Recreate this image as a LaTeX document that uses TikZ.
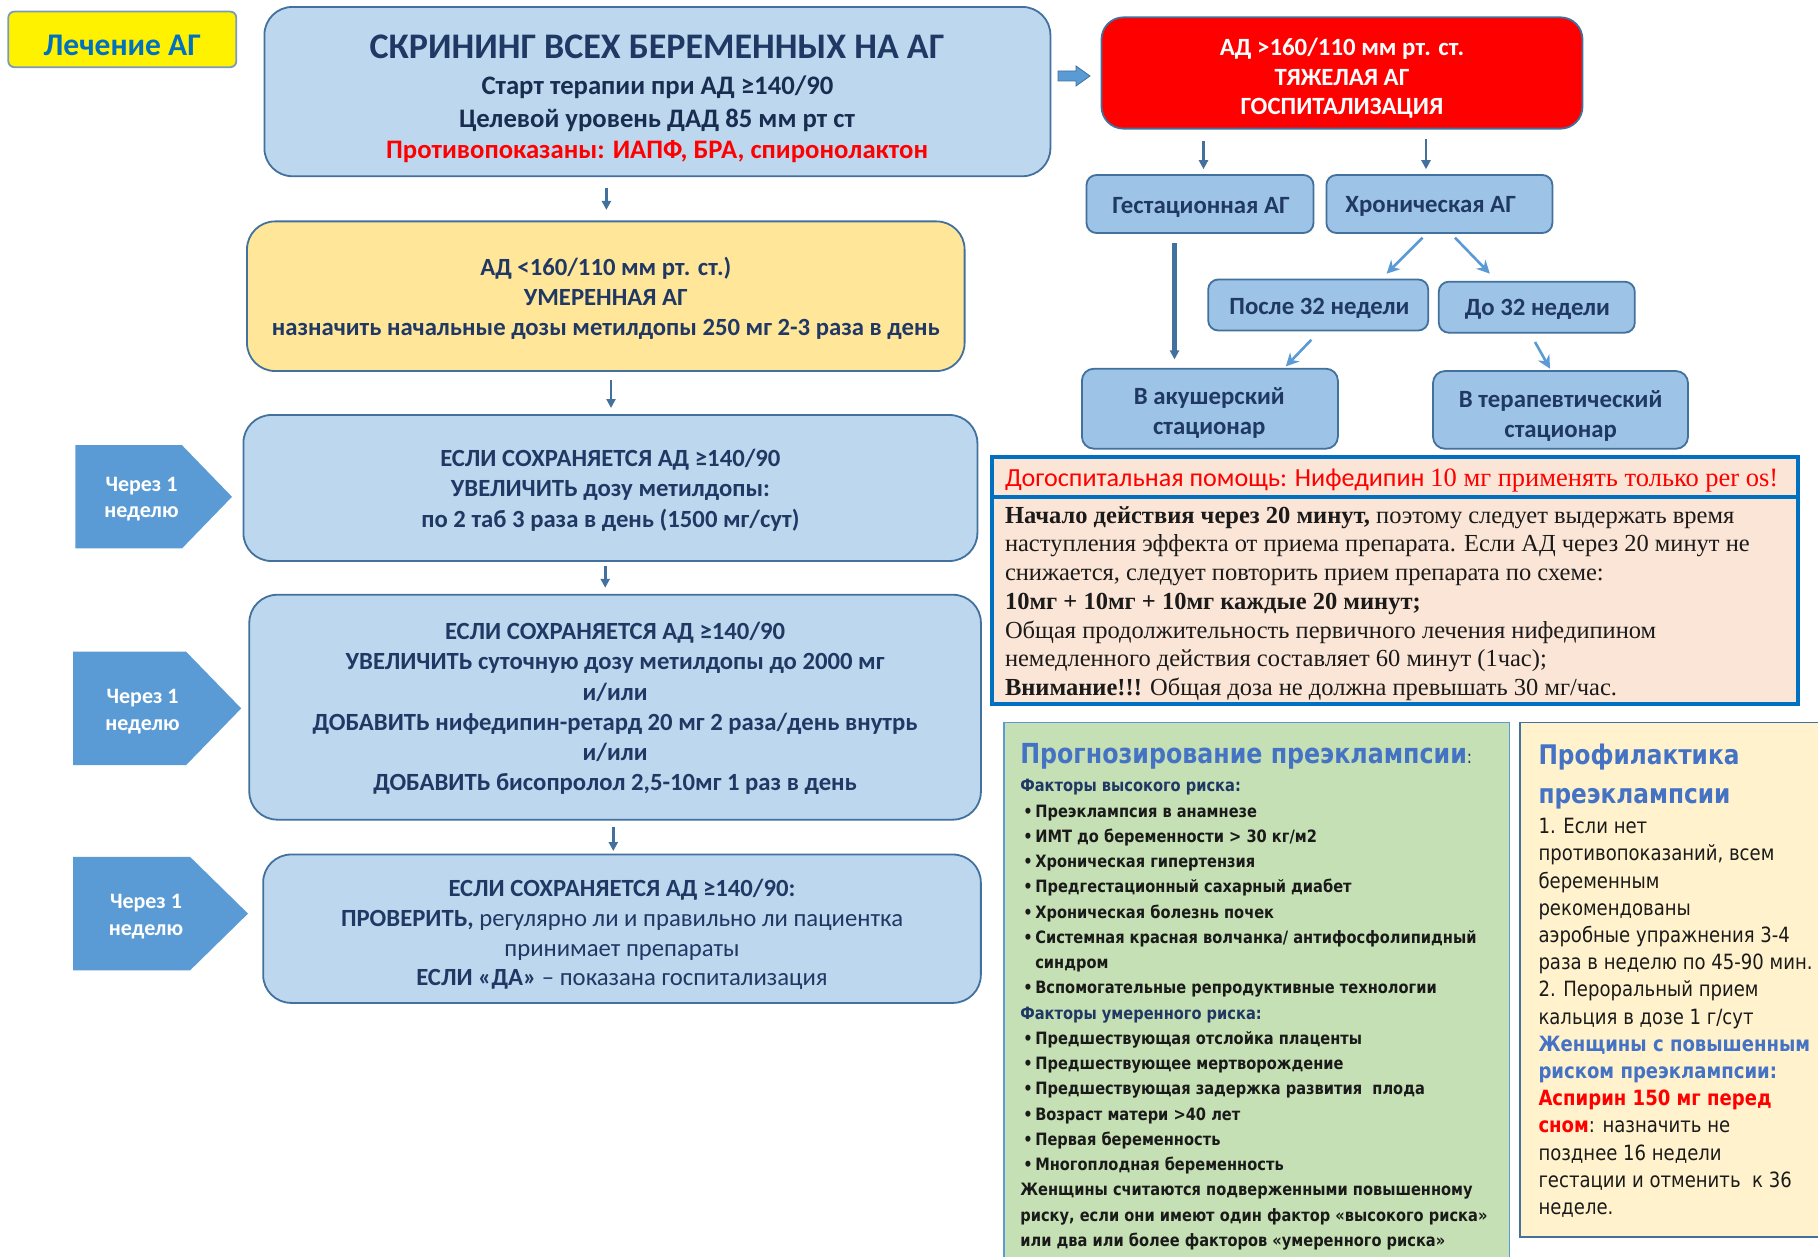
\documentclass[tikz,border=0pt]{standalone}
\usepackage{fontspec}
\setmainfont{Carlito}
\newfontfamily\serif{Liberation Serif}
\newfontfamily\tah[FakeStretch=0.86]{DejaVu Sans}
\usetikzlibrary{arrows.meta}
\definecolor{bfill}{HTML}{BDD7EE}
\definecolor{bdr}{HTML}{41719C}
\definecolor{mfill}{HTML}{9DC3E6}
\definecolor{pent}{HTML}{5B9BD5}
\definecolor{dtext}{HTML}{203864}
\definecolor{yfill}{HTML}{FFE699}
\definecolor{peach}{HTML}{FBE5D6}
\definecolor{gfill}{HTML}{C5E0B4}
\definecolor{lyfill}{HTML}{FFF2CC}
\definecolor{ttl}{HTML}{4472C4}
\definecolor{nblue}{HTML}{0070C0}
\definecolor{rtxt}{HTML}{FF0000}
\definecolor{btxt}{HTML}{1A1A1A}
\newcommand{\gbul}{\makebox[15pt][l]{\hspace{3pt}\textbullet}}
\newcommand{\gind}{\hspace{15pt}}
\begin{document}
\begin{tikzpicture}[x=1pt,y=-1pt,
  every node/.style={inner sep=0pt, outer sep=0pt},
  box/.style={draw=bdr, line width=1.8pt},
  flow/.style={box, fill=bfill, rounded corners=28pt},
  ftxt/.style={align=center, text=dtext, font=\bfseries\fontsize{24.7}{30.1}\selectfont},
  small/.style={box, fill=mfill, rounded corners=10pt},
  stxt/.style={align=center, text=dtext, font=\bfseries\fontsize{24.8}{30.1}\selectfont},
  arr/.style={draw=bdr, line width=2.6pt, -{Triangle[length=9pt,width=9pt]}},
  darr/.style={draw=pent, line width=2.6pt, -{Stealth[length=13pt,width=13pt]}},
  ptxt/.style={align=center, text=white, font=\bfseries\fontsize{22}{26.7}\selectfont},
  nline/.style={anchor=mid west, text=btxt, font=\serif\fontsize{24.5}{28}\selectfont},
  gline/.style={anchor=mid west, text=btxt, font=\tah\bfseries\fontsize{17}{20}\selectfont},
  rline/.style={anchor=mid west, text=btxt, font=\tah\fontsize{21}{24}\selectfont}
]
\useasboundingbox (0,0) rectangle (1818,1257);
\fill[white] (0,0) rectangle (1818,1257);

% title
\node[box, draw=bdr!70, fill=yellow, rounded corners=6pt, minimum width=228pt, minimum height=55.6pt] (lech) at (122.3,39.4) {};
\node[text=nblue, font=\bfseries\fontsize{31.5}{33}\selectfont] (lechT) at (122.3,45) {Лечение АГ};

% screening
\node[flow, minimum width=786pt, minimum height=169.3pt] (scr) at (657.4,91.6) {};
\node[text=dtext, font=\bfseries\fontsize{36}{38}\selectfont] (scr1) at (657,46.4) {СКРИНИНГ ВСЕХ БЕРЕМЕННЫХ НА АГ};
\node[text=dtext!80!black, font=\bfseries\fontsize{26.7}{28}\selectfont] (scr2) at (657.4,86.9) {Старт терапии при АД ≥140/90};
\node[text=dtext!80!black, font=\bfseries\fontsize{26.7}{28}\selectfont] (scr3) at (657,120.6) {Целевой уровень ДАД 85 мм рт ст};
\node[text=rtxt, font=\bfseries\fontsize{26.7}{28}\selectfont] (scr4) at (657,151.9) {Противопоказаны: ИАПФ, БРА, спиронолактон};

% block arrow
\filldraw[fill=pent, draw=bdr, line width=0.8pt] (1058,71) -- (1076,71) -- (1076,66) -- (1090,76) -- (1076,86) -- (1076,81) -- (1058,81) -- cycle;

% red box
\node[box, fill=red, rounded corners=22pt, minimum width=481pt, minimum height=111.3pt] (red) at (1342,73) {};
\node[align=center, text=white, font=\bfseries\fontsize{24.8}{29.6}\selectfont] (redT) at (1342,78.3)
  {АД >160/110 мм рт. ст.\\ТЯЖЕЛАЯ АГ\\ГОСПИТАЛИЗАЦИЯ};

% right small boxes
\node[small, minimum width=227pt, minimum height=58pt] (gest) at (1200,204) {};
\node[stxt] (gestT) at (1201.1,207.5) {Гестационная АГ};
\node[small, minimum width=226pt, minimum height=58pt] (chron) at (1439.4,204) {};
\node[stxt] (chronT) at (1430.7,206.3) {Хроническая АГ};
\node[small, minimum width=220pt, minimum height=51pt] (posle) at (1318.2,305) {};
\node[stxt] (posleT) at (1319.4,308.5) {После 32 недели};
\node[small, minimum width=196pt, minimum height=51pt] (do) at (1536.8,307.2) {};
\node[stxt] (doT) at (1537.4,309.5) {До 32 недели};
\node[small, rounded corners=12pt, minimum width=256pt, minimum height=80pt] (akush) at (1209.9,408.7) {};
\node[stxt] (akushT) at (1209.3,413.3) {В акушерский\\стационар};
\node[small, rounded corners=12pt, minimum width=255pt, minimum height=77.7pt] (ter) at (1560.5,409.9) {};
\node[stxt] (terT) at (1560.6,415.7) {В терапевтический\\стационар};

\draw[arr, shorten <=12.7pt, shorten >=5.8pt] (1203.5,0 |- red.south) -- (1203.5,0 |- gest.north);
\draw[arr, shorten <=10.3pt, shorten >=5.8pt] (1426,0 |- red.south) -- (1426,0 |- chron.north);
\draw[darr] ([shift={(-16.8,4.7)}]chron.south) -- ([shift={(68.4,-5.8)}]posle.north);
\draw[darr] ([shift={(15.6,4.7)}]chron.south) -- ([shift={(-47,-8.1)}]do.north);
\draw[arr, line width=4.5pt, shorten <=10.5pt, shorten >=9.3pt] (1174.5,0 |- gest.south) -- (1174.5,0 |- akush.north);
\draw[darr] ([shift={(-6.9,9.3)}]posle.south) -- ([shift={(75.9,-2.3)}]akush.north);
\draw[darr] ([shift={(-1.8,9.3)}]do.south) -- ([shift={(-10.5,-2.3)}]ter.north);

% left flow
\node[flow, fill=yfill, minimum width=717.6pt, minimum height=149.6pt] (mod) at (605.8,296.2) {};
\node[ftxt] (modT) at (605.8,298.5)
  {АД <160/110 мм рт. ст.)\\УМЕРЕННАЯ АГ\\назначить начальные дозы метилдопы 250 мг 2-3 раза в день};
\node[flow, minimum width=734pt, minimum height=146pt] (b3) at (610.4,488) {};
\node[ftxt] (b3T) at (610.4,490.3)
  {ЕСЛИ СОХРАНЯЕТСЯ АД ≥140/90\\УВЕЛИЧИТЬ дозу метилдопы:\\по 2 таб 3 раза в день (1500 мг/сут)};
\node[flow, minimum width=731.6pt, minimum height=224.9pt] (b4) at (615.1,707.2) {};
\node[ftxt] (b4T) at (615.1,708.4)
  {ЕСЛИ СОХРАНЯЕТСЯ АД ≥140/90\\УВЕЛИЧИТЬ суточную дозу метилдопы до 2000 мг\\и/или\\ДОБАВИТЬ нифедипин-ретард 20 мг 2 раза/день внутрь\\и/или\\ДОБАВИТЬ бисопролол 2,5-10мг 1 раз в день};
\node[flow, minimum width=717.7pt, minimum height=148.4pt] (b5) at (622,928.7) {};
\node[ftxt, font=\bfseries\fontsize{24.7}{29.8}\selectfont] (b5T) at (622,934.5)
  {ЕСЛИ СОХРАНЯЕТСЯ АД ≥140/90:\\ПРОВЕРИТЬ, \mdseries регулярно ли и правильно ли пациентка\\\mdseries принимает препараты\\ЕСЛИ «ДА» \mdseries – показана госпитализация};

\draw[arr, shorten <=11.6pt, shorten >=11.5pt] (606.4,0 |- scr.south) -- (606.4,0 |- mod.north);
\draw[arr, shorten <=9.3pt, shorten >=7pt] (611,0 |- mod.south) -- (611,0 |- b3.north);
\draw[arr, shorten <=4.7pt, shorten >=7pt] (605.2,0 |- b3.south) -- (605.2,0 |- b4.north);
\draw[arr, shorten <=6.9pt, shorten >=3.5pt] (613.3,0 |- b4.south) -- (613.3,0 |- b5.north);

% pentagons
\fill[pent] (75.4,445.2) -- (182,445.2) -- (232,496.8) -- (182,548.4) -- (75.4,548.4) -- cycle;
\node[ptxt] (p1) at (141.5,499.1) {Через 1\\неделю};
\fill[pent] (73,651.6) -- (186,651.6) -- (241.2,708.4) -- (186,765.2) -- (73,765.2) -- cycle;
\node[ptxt] (p2) at (142.6,711.8) {Через 1\\неделю};
\fill[pent] (73,856.8) -- (190,856.8) -- (248,913.6) -- (190,970.4) -- (73,970.4) -- cycle;
\node[ptxt] (p3) at (146,916.5) {Через 1\\неделю};

% nifedipine box
\node[draw=nblue, line width=4pt, fill=peach, minimum width=805.8pt, minimum height=246.9pt] (nif) at (1395.3,580.25) {};
\draw[nblue, line width=4pt] (nif.west |- 0,497.4) -- (nif.east |- 0,497.4);
\node[anchor=mid west, text=rtxt, font=\fontsize{26.1}{30}\selectfont] (nifh) at (1005,484.6)
  {Догоспитальная помощь: Нифедипин {\serif\fontsize{26.5}{28}\selectfont 10 мг применять только per os!}};
\node[nline] (n1) at (1005,521.2) {\bfseries Начало действия через 20 минут, \mdseries поэтому следует выдержать время};
\node[nline] (n2) at (1005,549) {наступления эффекта от приема препарата. Если АД через 20 минут не};
\node[nline] (n3) at (1005,578) {снижается, следует повторить прием препарата по схеме:};
\node[nline] (n4) at (1005,607) {\bfseries 10мг + 10мг + 10мг каждые 20 минут;};
\node[nline] (n5) at (1005,636) {Общая продолжительность первичного лечения нифедипином};
\node[nline] (n6) at (1005,663.8) {немедленного действия составляет 60 минут (1час);};
\node[nline] (n7) at (1005,692.8) {\bfseries Внимание!!! \mdseries Общая доза не должна превышать 30 мг/час.};

% green box
\draw[fill=gfill, draw=pent, line width=1.5pt] (1004,722.3) rectangle (1509.5,1275);
\node[anchor=mid west, text=ttl, font=\tah\bfseries\fontsize{27.6}{30}\selectfont] (gt) at (1020.3,761.6)
  {Прогнозирование преэклампсии{\mdseries\color{dtext}\fontsize{18}{20}\selectfont:}};
\foreach \t [count=\i] in {
  {\color{dtext}Факторы высокого риска:},
  \gbul Преэклампсия в анамнезе,
  \gbul ИМТ до беременности > 30 кг/м2,
  \gbul Хроническая гипертензия,
  \gbul Предгестационный сахарный диабет,
  \gbul Хроническая болезнь почек,
  \gbul Системная красная волчанка/ антифосфолипидный,
  \gind синдром,
  \gbul Вспомогательные репродуктивные технологии,
  {\color{dtext}Факторы умеренного риска:},
  \gbul Предшествующая отслойка плаценты,
  \gbul Предшествующее мертворождение,
  \gbul Предшествующая задержка развития\ \ плода,
  \gbul Возраст матери >40 лет,
  \gbul Первая беременность,
  \gbul Многоплодная беременность,
  Женщины считаются подверженными повышенному,
  {риску, если они имеют один фактор «высокого риска»},
  или два или более факторов «умеренного риска»}
  \node[gline] (g\i) at (1020.3,{789.6+(\i-1)*25.25}) {\t};

% right yellow box
\draw[fill=lyfill, draw=bdr, line width=1.5pt] (1520,722.3) rectangle (1840,1237);
\node[anchor=mid west, text=ttl, font=\tah\bfseries\fontsize{27}{30}\selectfont] (rt1) at (1538.5,761.8) {Профилактика};
\node[anchor=mid west, text=ttl, font=\tah\bfseries\fontsize{27}{30}\selectfont] (rt2) at (1538.5,801.2) {преэклампсии};
\foreach \t [count=\i] in {
  1. Если нет,
  {противопоказаний, всем},
  беременным,
  рекомендованы,
  аэробные упражнения 3-4,
  раза в неделю по 45-90 мин.,
  2. Пероральный прием,
  кальция в дозе 1 г/сут,
  {\color{ttl}\bfseries Женщины с повышенным},
  {\color{ttl}\bfseries риском преэклампсии:},
  {\color{rtxt}\bfseries Аспирин 150 мг перед},
  {{\color{rtxt}\bfseries сном}: назначить не},
  позднее 16 недели,
  гестации и отменить\ \ к 36,
  неделе.}
  \node[rline] (r\i) at (1538.5,{831.3+(\i-1)*27.2}) {\t};
\end{tikzpicture}
\end{document}
